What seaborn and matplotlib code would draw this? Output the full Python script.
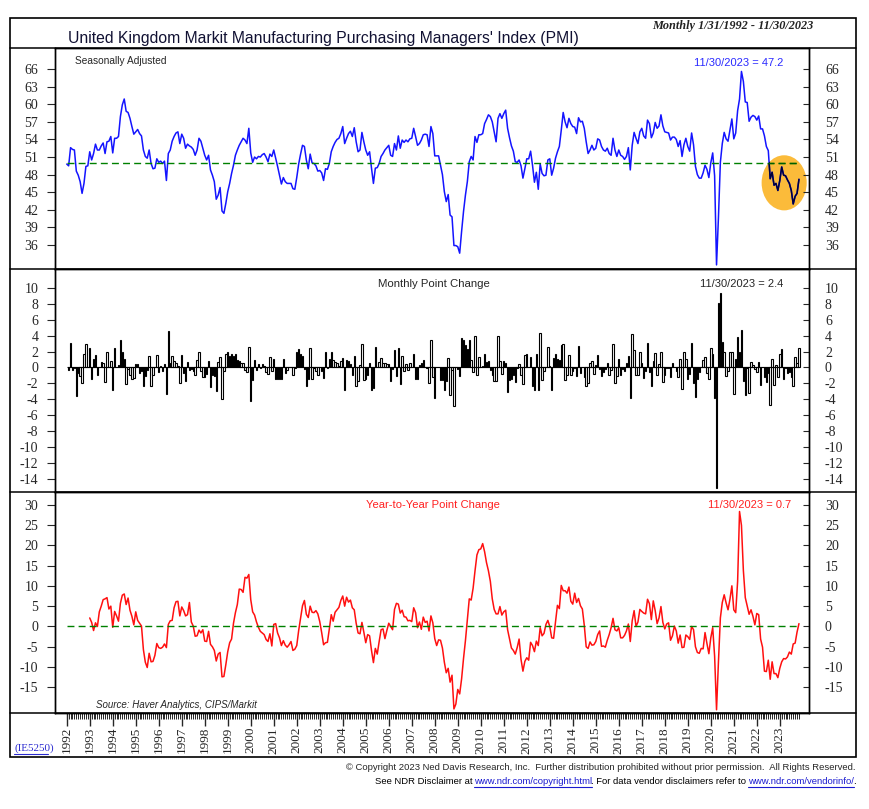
import numpy as np
import pandas as pd
import matplotlib
matplotlib.use('Agg')
import matplotlib.pyplot as plt
import seaborn as sns
from matplotlib.patches import Ellipse, Rectangle
from matplotlib.lines import Line2D
from matplotlib.ticker import FixedLocator

# UK manufacturing PMI, monthly Jan 1992 - Nov 2023
pmi_1990s = [
    49.8, 49.5, 52.6, 52.3, 52.2, 48.6, 47.9, 46.8, 44.8, 46.5, 49.4, 49.5,
    51.9, 50.5, 51.6, 53.2, 52.2, 52.2, 52.9, 53.4, 51.6, 53.6, 53.7, 54.5,
    51.7, 54.2, 54.2, 54.5, 57.9, 59.9, 60.9, 58.8, 58.6, 57.6, 56.2, 54.9,
    55.3, 55.7, 55.0, 54.6, 52.2, 51.1, 50.8, 52.2, 49.9, 49.0, 49.1, 50.7,
    50.1, 50.3, 49.9, 50.3, 47.0, 51.6, 52.2, 53.7, 54.5, 55.1, 55.3, 53.3,
    54.9, 54.2, 52.5, 53.2, 52.9, 52.7, 52.3, 51.3, 52.2, 54.2, 53.7, 52.5,
    51.3, 50.5, 51.3, 48.8, 47.9, 46.8, 43.8, 44.5, 45.8, 41.8, 41.4, 43.1,
    45.1, 46.5, 48.2, 49.6, 51.3, 52.2, 53.0, 53.6, 54.2, 53.9, 53.3, 55.9,
]
pmi_2000s = [
    51.7, 50.1, 51.0, 50.7, 51.1, 51.0, 51.4, 51.6, 51.0, 50.2, 51.5, 51.1,
    52.2, 50.8, 49.4, 47.9, 46.4, 47.5, 46.8, 46.5, 46.5, 46.5, 45.6, 45.5,
    47.5, 49.8, 51.5, 53.0, 52.8, 50.5, 49.0, 51.5, 50.0, 49.9, 49.5, 48.6,
    48.7, 48.3, 47.0, 49.0, 48.9, 49.9, 51.9, 52.8, 53.5, 54.0, 54.2, 55.0,
    56.2, 53.3, 54.2, 55.0, 55.4, 54.5, 56.0, 53.6, 51.9, 52.2, 55.2, 53.6,
    52.2, 51.3, 51.9, 49.1, 46.5, 49.1, 49.2, 49.9, 51.1, 51.6, 52.2, 52.6,
    53.0, 51.3, 51.1, 53.3, 52.2, 54.6, 52.5, 53.9, 53.5, 53.9, 53.6, 54.1,
    54.2, 55.9, 54.5, 53.0, 53.3, 53.9, 54.8, 54.9, 54.8, 52.8, 56.2, 55.0,
    51.2, 51.2, 51.2, 49.6, 48.0, 45.1, 43.4, 44.6, 41.1, 40.8, 35.9, 35.9,
    35.7, 34.6, 38.3, 41.7, 44.5, 46.8, 50.2, 51.1, 50.5, 54.5, 53.5, 54.8,
]
pmi_2010s = [
    54.8, 55.0, 56.7, 57.4, 58.2, 57.9, 57.0, 55.3, 53.6, 57.6, 58.4, 57.6,
    58.4, 59.0, 55.9, 54.3, 52.9, 52.0, 50.2, 50.1, 50.5, 49.5, 47.4, 49.0,
    50.7, 50.7, 52.0, 49.6, 46.7, 48.4, 45.5, 49.8, 48.2, 47.8, 47.9, 50.5,
    50.7, 47.9, 49.1, 50.8, 51.9, 52.8, 55.6, 58.6, 57.0, 56.0, 57.6, 56.7,
    56.2, 56.1, 55.0, 57.7, 57.0, 57.1, 55.9, 53.6, 51.6, 52.2, 53.0, 52.2,
    52.5, 54.1, 53.9, 52.8, 52.2, 52.0, 52.5, 51.6, 51.3, 54.2, 52.2, 51.1,
    52.2, 51.3, 51.1, 50.6, 51.1, 52.6, 48.8, 53.0, 55.2, 54.2, 53.3, 55.3,
    55.9, 54.6, 54.2, 57.3, 56.7, 54.3, 55.1, 56.9, 55.9, 56.3, 58.2, 56.3,
    55.3, 55.2, 55.1, 53.9, 54.4, 54.4, 54.0, 52.8, 53.8, 51.1, 53.1, 54.2,
    52.8, 52.0, 55.1, 53.1, 49.4, 48.0, 47.4, 47.4, 48.3, 49.6, 48.9, 47.5,
]
pmi_2020s = [
    50.0, 51.7, 47.8, 32.6, 40.7, 50.1, 53.3, 55.2, 54.1, 53.7, 55.6, 57.5,
    54.1, 55.1, 58.9, 60.9, 65.6, 63.9, 60.4, 60.3, 57.1, 57.8, 58.1, 57.9,
    57.3, 58.0, 55.8, 55.8, 54.6, 52.8, 52.1, 47.3, 48.4, 46.2, 46.5, 45.3,
    47.0, 49.3, 47.9, 47.8, 47.1, 46.5, 45.3, 43.0, 44.3, 44.8, 47.2,
]
first_year, last_year = 1992, 2023
pmi_ticks = [36, 39, 42, 45, 48, 51, 54, 57, 60, 63, 66]
chg_ticks = [-14, -12, -10, -8, -6, -4, -2, 0, 2, 4, 6, 8, 10]
yoy_ticks = [-15, -10, -5, 0, 5, 10, 15, 20, 25, 30]

pmi = np.array(pmi_1990s + pmi_2000s + pmi_2010s + pmi_2020s)
df = pd.DataFrame({'t': first_year + np.arange(len(pmi)) / 12, 'pmi': pmi})
df['chg'] = df['pmi'].diff()
df['yoy'] = df['pmi'].diff(12)

sns.set_style('white')
SANS = ['Liberation Sans', 'DejaVu Sans']
SERIF = ['Liberation Serif', 'DejaVu Serif']
plt.rcParams['font.family'] = SANS
plt.rcParams['axes.unicode_minus'] = False

W, H = 870, 809
fx = lambda px: px / W
fy = lambda py: 1 - py / H

fig = plt.figure(figsize=(W / 100, H / 100), dpi=100)
X0, X1 = 1991.49, 2024.27
t0, t1 = df['t'].iloc[0], df['t'].iloc[-1]


def panel(top, bottom):
    return fig.add_axes([fx(55), fy(bottom), fx(809) - fx(55), fy(top) - fy(bottom)])


def style(ax, ylim, ticks):
    ax.set_xlim(X0, X1)
    ax.set_ylim(*ylim)
    ax.set_yticks(ticks)
    ax.set_xlabel('')
    ax.set_ylabel('')
    ax.tick_params(axis='y', direction='out', length=6, width=0.8, pad=6,
                   labelsize=10, labelfontfamily=SERIF)
    for s in ax.spines.values():
        s.set_color('black')
        s.set_linewidth(1.0)
    r = ax.twinx()
    r.set_ylim(*ylim)
    r.set_yticks(ticks)
    r.tick_params(axis='y', direction='in', length=4, width=0.8, pad=11.5,
                  labelsize=10, labelfontfamily=SERIF)
    for s in r.spines.values():
        s.set_color('black')
        s.set_linewidth(1.0)
    return r


# --- top panel: PMI level
ax1 = panel(48, 269)
sns.lineplot(data=df, x='t', y='pmi', ax=ax1, color='#1414ff', lw=1.1, estimator=None)
ax1.hlines(50, t0, t1, colors='#008000', linestyles=(0, (5, 3)), lw=1)
ell = Ellipse((2023.19, 46.6), 1.96, 9.4, facecolor='#fbbb3a', edgecolor='none', zorder=1.5)
ax1.add_patch(ell)
dark, = ax1.plot(df['t'], df['pmi'], color='#00003a', lw=1.1, zorder=3)
dark.set_clip_path(ell)
dash = ax1.hlines(50, t0, t1, colors='#005e00', linestyles=(0, (5, 3)), lw=1, zorder=3)
dash.set_clip_path(ell)
style(ax1, (31.9, 69.6), pmi_ticks)
ax1.tick_params(axis='x', bottom=False, labelbottom=False)
ax1.text(0.027, 0.965, 'Seasonally Adjusted', transform=ax1.transAxes, fontsize=7.3, va='top')
ax1.text(0.848, 0.955, '11/30/2023 = 47.2', transform=ax1.transAxes, fontsize=8.0,
         va='top', color='#2a2aff')

# --- middle panel: monthly change
ax2 = panel(269, 492)
chg = df.dropna(subset=['chg'])
sns.barplot(x=chg['t'], y=chg['chg'], ax=ax2, native_scale=True, color='white',
            saturation=1, edgecolor='black', linewidth=0.8, width=0.75, errorbar=None)
ax2.hlines(0, t0, t1, colors='black', lw=0.8)
style(ax2, (-15.7, 12.4), chg_ticks)
ax2.tick_params(axis='x', bottom=False, labelbottom=False)
ax2.text(0.502, 0.955, 'Monthly Point Change', transform=ax2.transAxes, fontsize=8.2,
         ha='center', va='top')
ax2.text(0.856, 0.955, '11/30/2023 = 2.4', transform=ax2.transAxes, fontsize=8.0, va='top')

# --- bottom panel: year-to-year change
ax3 = panel(492, 713)
yoy = df.dropna(subset=['yoy'])
sns.lineplot(data=yoy, x='t', y='yoy', ax=ax3, color='#ff1010', lw=1.1, estimator=None)
ax3.hlines(0, t0, t1, colors='#008000', linestyles=(0, (5, 3)), lw=1)
style(ax3, (-21.3, 33.1), yoy_ticks)
ax3.text(0.501, 0.965, 'Year-to-Year Point Change', transform=ax3.transAxes, fontsize=8.1,
         ha='center', va='top', color='#ff2020')
ax3.text(0.866, 0.965, '11/30/2023 = 0.7', transform=ax3.transAxes, fontsize=8.0,
         va='top', color='#ff2020')
ax3.text(0.054, 0.015, 'Source: Haver Analytics, CIPS/Markit', transform=ax3.transAxes,
         fontsize=7.0, style='italic', va='bottom')
years = list(range(first_year, last_year + 1))
ax3.set_xticks(years)
ax3.set_xticklabels([str(y) for y in years], rotation=90, fontfamily=SERIF, fontsize=9.5)
ax3.xaxis.set_minor_locator(FixedLocator(df['t'].values))
ax3.tick_params(axis='x', which='major', bottom=True, direction='out', length=9, width=1, pad=1)
ax3.tick_params(axis='x', which='minor', bottom=True, direction='out', length=4, width=0.7)

# --- frame and header
fig.add_artist(Rectangle((fx(10), fy(757)), fx(856) - fx(10), fy(18) - fy(757),
                         transform=fig.transFigure, fill=False, lw=1.2, edgecolor='black'))
for py in (48, 269, 492, 713):
    fig.add_artist(Line2D([fx(10), fx(856)], [fy(py), fy(py)], transform=fig.transFigure,
                          color='black', lw=1.1))
fig.text(fx(68), fy(43), "United Kingdom Markit Manufacturing Purchasing Managers' Index (PMI)",
         fontsize=11.3, va='baseline', color='#111133')
fig.text(fx(813), fy(28.5), 'Monthly 1/31/1992 - 11/30/2023', fontsize=8.8, ha='right',
         va='baseline', family=SERIF, style='italic', weight='bold', color='#222222')
fig.text(fx(14.5), fy(751), '(IE5250)', fontsize=8, va='baseline', family=SERIF, color='#2b2bd0')
fig.add_artist(Line2D([fx(14.5), fx(48.5)], [fy(753.5), fy(753.5)], transform=fig.transFigure,
                      color='#2b2bd0', lw=0.8))

# --- footer
fig.text(fx(855.5), fy(770.5), '\u00a9 Copyright 2023 Ned Davis Research, Inc.  Further distribution '
         'prohibited without prior permission.  All Rights Reserved.', fontsize=6.8, ha='right',
         va='baseline')
renderer = fig.canvas.get_renderer()
pieces = [('See NDR Disclaimer at ', 'black', False),
          ('www.ndr.com/copyright.html', '#1a1ad0', True),
          ('. For data vendor disclaimers refer to ', 'black', False),
          ('www.ndr.com/vendorinfo/', '#1a1ad0', True),
          ('.', 'black', False)]
x_right = fx(855.5)
for txt, col, link in reversed(pieces):
    tx = fig.text(x_right, fy(784), txt, fontsize=6.8, ha='right', va='baseline', color=col)
    bb = tx.get_window_extent(renderer=renderer).transformed(fig.transFigure.inverted())
    if link:
        fig.add_artist(Line2D([bb.x0, bb.x1], [fy(787), fy(787)], transform=fig.transFigure,
                              color=col, lw=0.8))
    x_right = bb.x0 + fx(1)

fig.savefig('out.png', dpi=100)
